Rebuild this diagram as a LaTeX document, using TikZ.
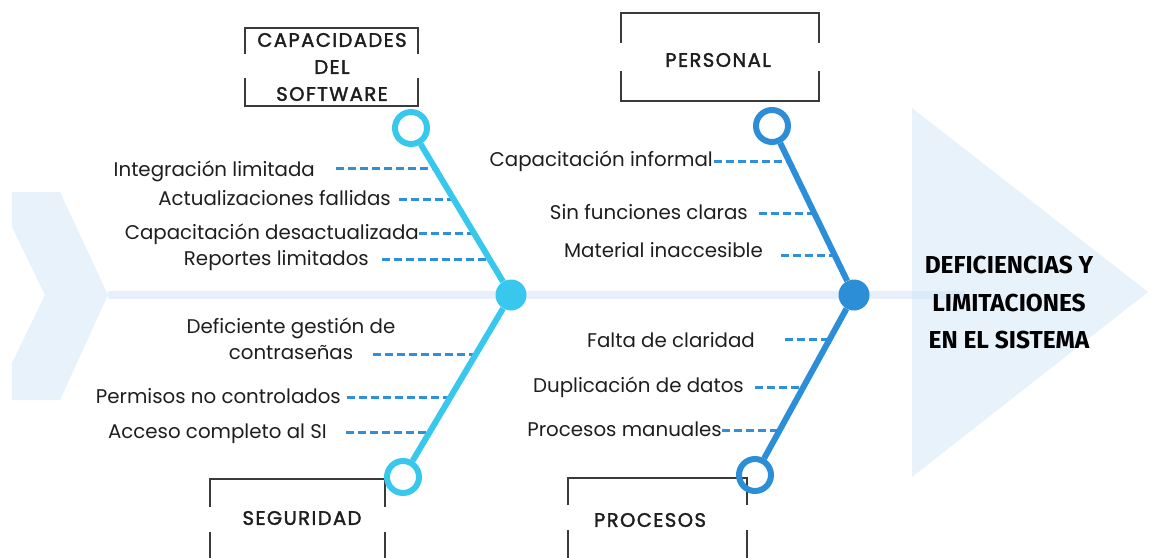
\documentclass[tikz,border=0pt]{standalone}
\usepackage{fontspec}
\setmainfont{Poppins}
\newfontfamily\capfont[LetterSpace=7.5,FakeBold=2]{Poppins}
\newfontfamily\titlefont{Fira Sans}
\usetikzlibrary{calc}
\definecolor{cyanbone}{HTML}{38C8EE}
\definecolor{bluebone}{HTML}{2B8ED6}
\definecolor{dashblue}{HTML}{2F8FDA}
\definecolor{paleblue}{HTML}{E7F2FB}
\definecolor{spineblue}{HTML}{D3E6F7}
\definecolor{boxgray}{HTML}{3A3A3A}
\definecolor{txt}{HTML}{1E1E1E}
\begin{document}
\begin{tikzpicture}[x=1pt,y=-1pt,
  lbl/.style={font=\fontsize{19.8}{26}\selectfont, text=txt, inner sep=0pt, anchor=base east},
  boxtxt/.style={font=\capfont\fontsize{19.5}{27}\selectfont, text=txt, align=center, inner sep=0pt},
  ttl/.style={font=\titlefont\bfseries\fontsize{24.5}{37.5}\selectfont, text=black, align=center, inner sep=0pt},
  ring/.style={circle, draw=#1, line width=6pt, minimum size=32pt, inner sep=0pt},
  hub/.style={circle, fill=#1, minimum size=31pt, inner sep=0pt},
  bone/.style={draw=#1, line width=6pt},
  dsh/.style={draw=dashblue, line width=3pt, dash pattern=on 8pt off 4pt},
  frame/.style={draw=boxgray, line width=1.3pt}]
\useasboundingbox (0,0) rectangle (1151,557);
% background shapes
\fill[paleblue] (12,192) -- (60,192) -- (108,295) -- (60,400) -- (12,400) -- (12,363) -- (45,295) -- (12,227) -- cycle;
\fill[paleblue] (912,108) -- (1148,292) -- (912,477) -- cycle;
\coordinate (sp1) at (108,295);
\coordinate (sp2) at (965,295);
\draw[spineblue, draw opacity=0.6, line width=8pt] (sp1) -- (sp2);
% frames
\draw[frame] (245,54) -- (245,28) -- (418,28) -- (418,54);
\draw[frame] (245,78) -- (245,106) -- (418,106) -- (418,78);
\draw[frame] (621,43) -- (621,13) -- (819,13) -- (819,43);
\draw[frame] (621,71) -- (621,101) -- (819,101) -- (819,71);
\draw[frame] (210,507) -- (210,479) -- (385,479) -- (385,507);
\draw[frame] (210,532) -- (210,558);
\draw[frame] (385,532) -- (385,558);
\draw[frame] (568,505) -- (568,478) -- (747,478) -- (747,505);
\draw[frame] (568,530) -- (568,558);
\draw[frame] (747,530) -- (747,558);
% box texts
\node[boxtxt] (capsw) at (332,67) {CAPACIDADES\\DEL\\SOFTWARE};
\node[boxtxt] (pers) at (718,60) {PERSONAL};
\node[boxtxt] (segu) at (302,518) {SEGURIDAD};
\node[boxtxt] (proc) at (650,520) {PROCESOS};
% title
\node[ttl] (title) at (1009,303) {DEFICIENCIAS Y\\LIMITACIONES\\EN EL SISTEMA};
% labels
\node[lbl] (l1) at (315,176) {Integración limitada};
\node[lbl] (l2) at (391,205) {Actualizaciones fallidas};
\node[lbl] (l3) at (419,239) {Capacitación desactualizada};
\node[lbl] (l4) at (369,265) {Reportes limitados};
\node[font=\fontsize{19.8}{26}\selectfont, text=txt, inner sep=0pt, align=center] (l5) at (291,339) {Deficiente gestión de\\contraseñas};
\node[lbl] (l6) at (341,403) {Permisos no controlados};
\node[lbl] (l7) at (327,438) {Acceso completo al SI};
\node[lbl] (l8) at (713,166) {Capacitación informal};
\node[lbl] (l9) at (748,219) {Sin funciones claras};
\node[lbl] (l10) at (763,257) {Material inaccesible};
\node[lbl] (l11) at (755,347) {Falta de claridad};
\node[lbl] (l12) at (744,392) {Duplicación de datos};
\node[lbl] (l13) at (722,436) {Procesos manuales};
% dashes
\coordinate (d1a) at (336,168); \coordinate (d1b) at (435,168);
\coordinate (d2a) at (399,199); \coordinate (d2b) at (453,199);
\coordinate (d3a) at (419,233); \coordinate (d3b) at (474,233);
\coordinate (d4a) at (382,259); \coordinate (d4b) at (489,259);
\coordinate (d5a) at (373,354); \coordinate (d5b) at (476,354);
\coordinate (d6a) at (347,397); \coordinate (d6b) at (450,397);
\coordinate (d7a) at (346,432); \coordinate (d7b) at (430,432);
\coordinate (d8a) at (714,161); \coordinate (d8b) at (789,161);
\coordinate (d9a) at (759,213); \coordinate (d9b) at (814,213);
\coordinate (d10a) at (781,255); \coordinate (d10b) at (835,255);
\coordinate (d11a) at (785,339); \coordinate (d11b) at (830,339);
\coordinate (d12a) at (755,387); \coordinate (d12b) at (803,387);
\coordinate (d13a) at (722,430); \coordinate (d13b) at (780,430);
\foreach \i in {1,...,13} {\draw[dsh] (d\i a) -- (d\i b);}
% bones
\node[ring=cyanbone] (t1) at (411,128) {};
\node[hub=cyanbone] (h1) at (511,295) {};
\node[ring=cyanbone] (b1) at (403,477) {};
\node[ring=bluebone] (t2) at (772,126) {};
\node[hub=bluebone] (h2) at (854,295) {};
\node[ring=bluebone] (b2) at (755,475) {};
\draw[bone=cyanbone] (t1) -- (h1);
\draw[bone=cyanbone] (h1) -- (b1);
\draw[bone=bluebone] (t2) -- (h2);
\draw[bone=bluebone] (h2) -- (b2);
\end{tikzpicture}
\end{document}
